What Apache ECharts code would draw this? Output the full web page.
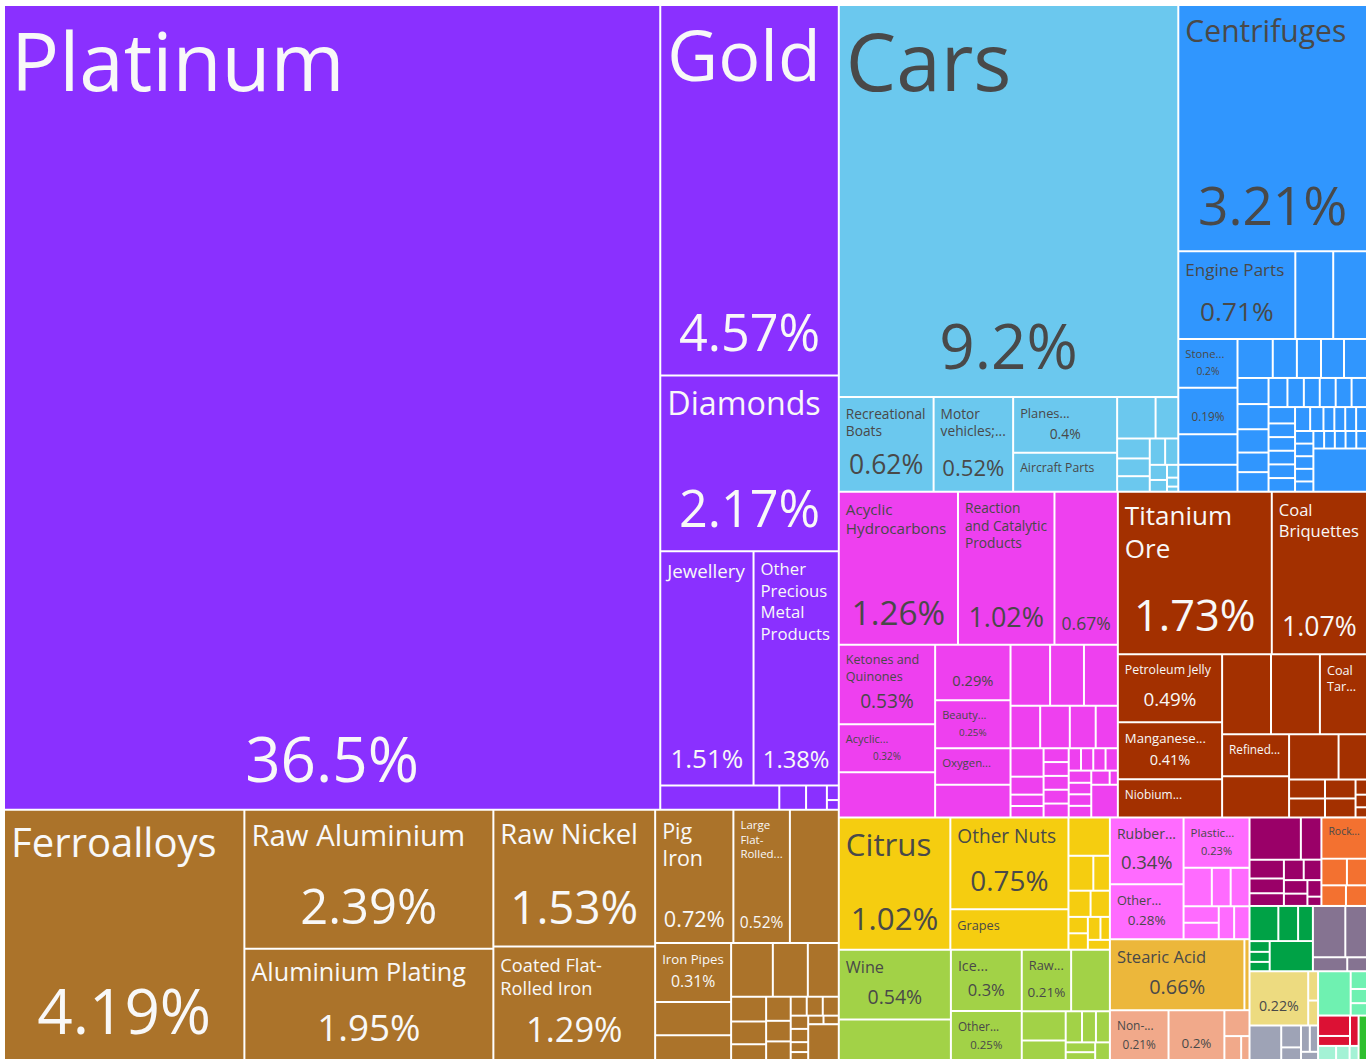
<!DOCTYPE html>
<html lang="en">
<head>
    <meta charset="UTF-8">
    <title>Exports treemap</title>
    <style>
        html, body { margin: 0; padding: 0; background: #fff; }
        #main { width: 1369px; height: 1059px; }
    </style>
</head>
<body>
    <div id="main"></div>
    <script src="https://cdn.jsdelivr.net/npm/echarts@6/dist/echarts.min.js"></script>
    <script>
        // share of total exports (%) per product, one list per HS section
        const preciousMetals = [
            ['Platinum', 36.5], ['Gold', 4.57], ['Diamonds', 2.17], ['Jewellery', 1.51],
            ['Other Precious Metal Products', 1.38], ['', 0.2], ['', 0.045], ['', 0.035], ['', 0.012], ['', 0.008]
        ];
        const metals = [
            ['Ferroalloys', 4.19], ['Raw Aluminium', 2.39], ['Aluminium Plating', 1.95], ['Raw Nickel', 1.53],
            ['Coated Flat-Rolled Iron', 1.29], ['Pig Iron', 0.72], ['Large Flat-Rolled...', 0.52], ['', 0.45],
            ['Iron Pipes', 0.31], ['', 0.175], ['', 0.14], ['', 0.155], ['', 0.13], ['', 0.115],
            ['', 0.06], ['', 0.055], ['', 0.043], ['', 0.041], ['', 0.035], ['', 0.035], ['', 0.021],
            ['', 0.021], ['', 0.021], ['', 0.016], ['', 0.016], ['', 0.012], ['', 0.012], ['', 0.009],
            ['', 0.009], ['', 0.08]
        ];
        const transportation = [
            ['Cars', 9.2], ['Recreational Boats', 0.62], ['Motor vehicles;...', 0.52], ['Planes...', 0.4],
            ['Aircraft Parts', 0.28], ['', 0.11], ['', 0.065], ['', 0.045], ['', 0.04], ['', 0.035],
            ['', 0.028], ['', 0.024], ['', 0.018], ['', 0.014], ['', 0.01], ['', 0.007], ['', 0.004]
        ];
        const machines = [
            ['Centrifuges', 3.21], ['Engine Parts', 0.71], ['', 0.23], ['', 0.205], ['Stone...', 0.2],
            ['', 0.19], ['', 0.125], ['', 0.11], ['', 0.095], ['', 0.065], ['', 0.065], ['', 0.062],
            ['', 0.062], ['', 0.056], ['', 0.054], ['', 0.05], ['', 0.042], ['', 0.042], ['', 0.038],
            ['', 0.033], ['', 0.032], ['', 0.032], ['', 0.032], ['', 0.031], ['', 0.03], ['', 0.025],
            ['', 0.025], ['', 0.025], ['', 0.025], ['', 0.025], ['', 0.025], ['', 0.022], ['', 0.018],
            ['', 0.018], ['', 0.018], ['', 0.018], ['', 0.016], ['', 0.016], ['', 0.016], ['', 0.016],
            ['', 0.013], ['', 0.013], ['', 0.013], ['', 0.013], ['', 0.013], ['', 0.013], ['', 0.16]
        ];
        const chemicals = [
            ['Acyclic Hydrocarbons', 1.26], ['Reaction and Catalytic Products', 1.02], ['', 0.67],
            ['Ketones and Quinones', 0.53], ['Acyclic...', 0.32], ['', 0.3], ['', 0.29], ['Beauty...', 0.25],
            ['Oxygen...', 0.19], ['', 0.17], ['', 0.167], ['', 0.143], ['', 0.143], ['', 0.087], ['', 0.087],
            ['', 0.076], ['', 0.065], ['', 0.065], ['', 0.041], ['', 0.026], ['', 0.026], ['', 0.024],
            ['', 0.024], ['', 0.024], ['', 0.024], ['', 0.024], ['', 0.019], ['', 0.019], ['', 0.019],
            ['', 0.019], ['', 0.019], ['', 0.018], ['', 0.018], ['', 0.018], ['', 0.018], ['', 0.008], ['', 0.06]
        ];
        const minerals = [
            ['Titanium Ore', 1.73], ['Coal Briquettes', 1.07], ['Petroleum Jelly', 0.49], ['Manganese...', 0.41],
            ['Niobium...', 0.275], ['', 0.27], ['', 0.27], ['Coal Tar...', 0.26], ['Refined...', 0.195],
            ['', 0.19], ['', 0.155], ['', 0.089], ['', 0.047], ['', 0.047], ['', 0.04], ['', 0.04],
            ['', 0.012], ['', 0.01], ['', 0.008]
        ];
        const vegetables = [
            ['Citrus', 1.02], ['Other Nuts', 0.75], ['Grapes', 0.33], ['', 0.11], ['', 0.06], ['', 0.04],
            ['', 0.04], ['', 0.035], ['', 0.022], ['', 0.022], ['', 0.02], ['', 0.015], ['', 0.015]
        ];
        const foodstuffs = [
            ['Wine', 0.54], ['', 0.33], ['Ice...', 0.3], ['Other...', 0.25], ['Raw...', 0.21], ['', 0.165],
            ['', 0.089], ['', 0.065], ['', 0.035], ['', 0.03], ['', 0.03], ['', 0.02], ['', 0.02], ['', 0.02]
        ];
        const plastics = [
            ['Rubber...', 0.34], ['Other...', 0.28], ['Plastic...', 0.23], ['', 0.075], ['', 0.05],
            ['', 0.05], ['', 0.04], ['', 0.04], ['', 0.035], ['', 0.035]
        ];
        const biProducts = [['Stearic Acid', 0.66], ['', 0.025]];
        const textiles = [['Non-...', 0.21], ['', 0.2], ['', 0.045], ['', 0.03], ['', 0.015]];
        const instruments = [
            ['', 0.15], ['', 0.06], ['', 0.045], ['', 0.035], ['', 0.03], ['', 0.028], ['', 0.025],
            ['', 0.022], ['', 0.02], ['', 0.016], ['', 0.009]
        ];
        const stoneGlass = [['Rock...', 0.13], ['', 0.047], ['', 0.037], ['', 0.035], ['', 0.03]];
        const paperGoods = [['', 0.07], ['', 0.048], ['', 0.036], ['', 0.015], ['', 0.014], ['', 0.013], ['', 0.09]];
        const miscellaneous = [['', 0.115], ['', 0.077], ['', 0.033], ['', 0.019]];
        const animalProducts = [['', 0.22], ['', 0.02], ['', 0.017]];
        const woodProducts = [['', 0.08], ['', 0.03], ['', 0.02], ['', 0.016], ['', 0.015], ['', 0.012]];
        const animalHides = [['', 0.1], ['', 0.02], ['', 0.016], ['', 0.014]];
        const footwear = [['', 0.045], ['', 0.022], ['', 0.018]];
        const weapons = [['', 0.02], ['', 0.015], ['', 0.01]];
        const arts = [['', 0.027]];

        const sections = [
            ['Precious Metals', preciousMetals], ['Metals', metals], ['Transportation', transportation],
            ['Machines', machines], ['Chemical Products', chemicals], ['Mineral Products', minerals],
            ['Vegetable Products', vegetables], ['Foodstuffs', foodstuffs], ['Plastics and Rubbers', plastics],
            ['Animal and Vegetable Bi-Products', biProducts], ['Textiles', textiles], ['Instruments', instruments],
            ['Stone And Glass', stoneGlass], ['Paper Goods', paperGoods], ['Miscellaneous', miscellaneous],
            ['Animal Products', animalProducts], ['Wood Products', woodProducts], ['Animal Hides', animalHides],
            ['Footwear and Headwear', footwear], ['Weapons', weapons], ['Arts and Antiques', arts]
        ];
        const sectionColors = [
            '#8a30ff', '#ab732a', '#6bc8ee', '#3096fe', '#ee40ef', '#a33000', '#f5cd10', '#a2d247',
            '#ff6bff', '#ecb73b', '#f1a98a', '#9a0068', '#f37130', '#00a246', '#857391', '#eddb80',
            '#9ea3b6', '#6ff1b1', '#dc1134', '#a4f2d5', '#2fbf2f'
        ];

        const FONT = '"Open Sans", sans-serif';
        const DARK = '#494949';
        const LIGHT = '#f8f8f8';
        const PAD = 6;
        const LINE = 1.28;
        const measureCtx = document.createElement('canvas').getContext('2d');

        function textWidth(str, size) {
            measureCtx.font = size + 'px ' + FONT;
            return measureCtx.measureText(str).width;
        }

        function isLight(hex) {
            const c = [1, 3, 5].map(i => parseInt(hex.substr(i, 2), 16) / 255)
                .map(v => v <= 0.03928 ? v / 12.92 : Math.pow((v + 0.055) / 1.055, 2.4));
            return 0.2126 * c[0] + 0.7152 * c[1] + 0.0722 * c[2] > 0.25;
        }

        // words, and hyphenated parts of words, that a line may break after
        function splitName(name) {
            const out = [];
            name.split(' ').forEach((word, wi) => {
                word.split(/(?<=-)/).forEach((part, pi) => out.push({ t: part, space: wi > 0 && pi === 0 }));
            });
            return out;
        }

        function wrapName(parts, size, maxW) {
            const lines = [];
            let cur = '';
            for (const p of parts) {
                if (textWidth(p.t, size) > maxW) return null;
                const next = cur ? cur + (p.space ? ' ' : '') + p.t : p.t;
                if (!cur || textWidth(next, size) <= maxW) {
                    cur = next;
                } else {
                    lines.push(cur);
                    cur = p.t;
                }
            }
            if (cur) lines.push(cur);
            return lines;
        }

        const bottomGapFor = pf => 9 + 0.18 * pf;

        // name top-left, share centred at the bottom, both sized to the cell
        function makeLabel(name, value, w, h, color) {
            const pctText = value + '%';
            let pf0 = 0;
            const pctOk = name ? (w >= 46 && h >= 43) : (w >= 48.5 && h >= 43 && w <= 1.6 * h);
            if (pctOk) {
                pf0 = Math.min(62, 0.8 * w / textWidth(pctText, 1), h * (0.22 + 0.001 * h));
                if (pf0 < 8) pf0 = 0;
            }
            let fit = null;
            let pf = pf0;
            if (name && w >= 42 && h >= 30) {
                const parts = splitName(name);
                const maxW = Math.min(w - 2 * PAD, 0.87 * w);
                for (let f = Math.min(80, (pf0 ? 0.24 : 0.33) * h); f >= 7; f -= 0.5) {
                    const lines = wrapName(parts, f, maxW);
                    if (!lines || lines.length > 4) continue;
                    const bh = lines.length * f * LINE;
                    if (lines.length > 1 && bh > 0.42 * h) continue;
                    const topPad = Math.max(2, 7 - 0.06 * f);
                    if (!pf0) {
                        if (topPad + bh > h - 2) continue;
                        fit = { f, lines, topPad, bh };
                        break;
                    }
                    const avail = h - 2 - topPad - bh - bottomGapFor(pf0);
                    const p = Math.min(pf0, avail / 1.25);
                    if (p < Math.max(8, 0.8 * pf0)) continue;
                    fit = { f, lines, topPad, bh };
                    pf = p;
                    break;
                }
            }
            if (!fit && !pf) return { show: false };
            const topPad = fit ? fit.topPad : 4;
            const rich = {};
            const rows = [];
            if (fit) {
                rich.n = { fontSize: fit.f, lineHeight: fit.f * LINE, fontFamily: FONT, color };
                fit.lines.forEach(l => rows.push('{n|' + l + '}'));
            }
            if (pf) {
                const gap = Math.max(1, h - topPad - (fit ? fit.bh : 0) - pf - bottomGapFor(pf));
                rich.s = { fontSize: 1, lineHeight: gap, height: gap };
                rich.p = { fontSize: pf, lineHeight: pf, fontFamily: FONT, color, align: 'center' };
                rows.push('{s| }', '{p|' + pctText + '}');
            }
            return {
                show: true,
                position: 'insideTopLeft',
                distance: 0,
                padding: [topPad, PAD, 0, PAD],
                overflow: 'none',
                formatter: rows.join('\n'),
                rich,
                color,
                fontFamily: FONT,
                textBorderWidth: 0
            };
        }

        function buildData(sizes) {
            return sections.map(([secName, items], si) => ({
                name: secName,
                itemStyle: { color: sectionColors[si] },
                children: items.map(([name, value], li) => {
                    const node = { name, value };
                    if (sizes) {
                        const [w, h] = sizes[si][li];
                        node.label = makeLabel(name, value, w, h, isLight(sectionColors[si]) ? DARK : LIGHT);
                    }
                    return node;
                })
            }));
        }

        function buildOption(sizes) {
            return {
                animation: false,
                series: [{
                    type: 'treemap',
                    left: 5,
                    top: 6,
                    width: 1361,
                    height: 1055,
                    roam: false,
                    nodeClick: false,
                    breadcrumb: { show: false },
                    sort: false,
                    visibleMin: 0,
                    label: { show: false },
                    upperLabel: { show: false },
                    emphasis: { disabled: true },
                    itemStyle: { borderColor: '#fff', borderWidth: 0, gapWidth: 0 },
                    levels: [
                        { itemStyle: { borderColor: '#fff', borderWidth: 0, gapWidth: 2 } },
                        { itemStyle: { borderColor: '#fff', borderWidth: 0, gapWidth: 2 } },
                        { itemStyle: { borderWidth: 0 } }
                    ],
                    data: buildData(sizes)
                }]
            };
        }

        const chart = echarts.init(document.getElementById('main'), null, { renderer: 'svg' });
        chart.setOption(buildOption(null));

        // second pass: size the labels from the cells the treemap laid out
        const root = chart.getModel().getSeriesByIndex(0).getData().tree.root;
        const sizes = root.children.map(sec => sec.children.map(leaf => {
            const l = leaf.getLayout() || {};
            return [l.width || 0, l.height || 0];
        }));
        chart.setOption(buildOption(sizes));
    </script>
</body>
</html>
